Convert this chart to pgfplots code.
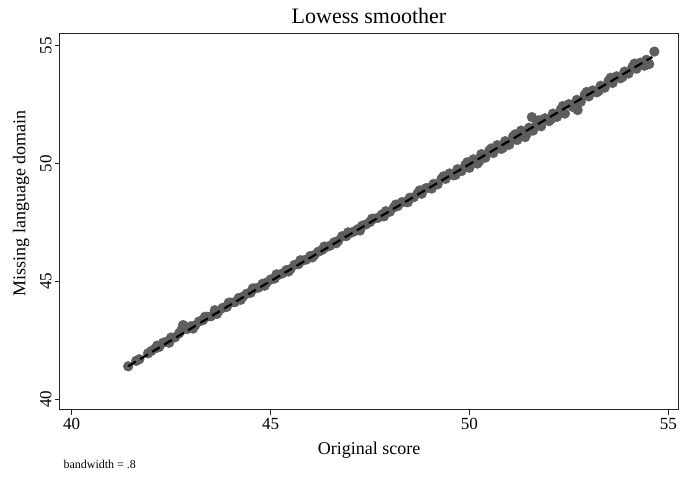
\documentclass[border=0pt]{standalone}
\usepackage{pgfplots}
\pgfplotsset{compat=1.18}
\usepackage{fontspec}
\setmainfont{Liberation Serif}

\definecolor{dotgray}{RGB}{94,94,94}

\begin{document}
\begin{tikzpicture}
\useasboundingbox (-60pt,-77pt) rectangle (620pt,410pt);
\begin{axis}[
  clip marker paths=true,
  scale only axis,
  width=618pt, height=376pt,
  xmin=39.706, xmax=55.244,
  ymin=39.546, ymax=55.496,
  xtick={40,45,50,55}, ytick={40,45,50,55},
  tick align=outside, major tick length=5pt,
  xtick pos=bottom, ytick pos=left,
  axis line style={black!85, line width=1pt},
  every tick/.style={black!85, line width=0.8pt},
  /pgf/number format/assume math mode=true,
  ticklabel style={font=\fontsize{17}{20}\selectfont},
  yticklabel style={rotate=90, anchor=south},
  title={Lowess smoother},
  title style={font=\fontsize{22}{26}\selectfont, at={(0.5,1)}, anchor=south, yshift=1pt},
  xlabel={Original score},
  ylabel={Missing language domain},
  label style={font=\fontsize{18}{21}\selectfont},
  xlabel style={at={(axis description cs:0.5,-0.106)}, anchor=center},
  ylabel style={at={(axis description cs:-0.063,0.55)}, anchor=center},
]
\addplot[only marks, mark=*, mark size=4.9pt, color=dotgray, mark options={fill=dotgray, draw=dotgray}]
table[row sep=crcr]{
41.42 41.40 \\
41.62 41.63 \\
41.70 41.70 \\
41.92 41.95 \\
42.00 42.05 \\
42.10 42.16 \\
42.20 42.22 \\
42.30 42.40 \\
42.40 42.45 \\
42.50 42.62 \\
42.60 42.63 \\
42.70 42.80 \\
42.80 43.15 \\
42.90 42.98 \\
43.00 43.10 \\
43.10 43.13 \\
43.20 43.30 \\
43.30 43.36 \\
43.40 43.50 \\
43.50 43.52 \\
43.60 43.78 \\
43.70 43.76 \\
43.80 43.88 \\
43.90 43.92 \\
44.00 44.10 \\
44.10 44.12 \\
44.20 44.30 \\
44.30 44.35 \\
44.40 44.48 \\
44.50 44.52 \\
44.60 44.70 \\
44.70 44.74 \\
44.80 44.90 \\
44.90 44.95 \\
45.00 45.08 \\
45.10 45.12 \\
45.20 45.28 \\
45.30 45.34 \\
45.40 45.48 \\
45.50 45.52 \\
45.60 45.70 \\
45.70 45.73 \\
45.80 45.88 \\
45.90 45.93 \\
46.00 46.08 \\
46.10 46.12 \\
46.20 46.26 \\
46.30 46.34 \\
46.40 46.46 \\
46.50 46.52 \\
46.60 46.66 \\
46.70 46.72 \\
46.80 46.92 \\
46.90 46.92 \\
47.00 47.05 \\
47.10 47.12 \\
47.20 47.22 \\
47.30 47.36 \\
47.40 47.42 \\
47.50 47.52 \\
47.60 47.66 \\
47.70 47.70 \\
47.80 47.84 \\
47.90 47.98 \\
48.00 47.96 \\
48.10 48.14 \\
48.20 48.20 \\
48.30 48.36 \\
48.40 48.38 \\
48.50 48.55 \\
48.60 48.57 \\
48.70 48.74 \\
48.80 48.72 \\
48.90 48.95 \\
49.00 48.98 \\
49.10 49.14 \\
49.20 49.12 \\
49.30 49.36 \\
49.40 49.35 \\
49.50 49.58 \\
49.60 49.50 \\
49.70 49.76 \\
49.80 49.68 \\
49.90 49.95 \\
50.00 49.82 \\
50.10 50.18 \\
50.20 50.00 \\
50.30 50.40 \\
50.40 50.25 \\
50.50 50.55 \\
50.60 50.45 \\
50.70 50.78 \\
50.80 50.62 \\
50.90 50.95 \\
51.00 50.80 \\
51.10 51.15 \\
51.20 51.00 \\
51.30 51.40 \\
51.40 51.12 \\
51.50 51.52 \\
51.57 51.97 \\
51.60 51.40 \\
51.70 51.72 \\
51.80 51.58 \\
51.90 51.92 \\
52.00 51.80 \\
52.10 52.12 \\
52.20 51.98 \\
52.30 52.30 \\
52.40 52.12 \\
52.50 52.52 \\
52.60 52.40 \\
52.72 52.27 \\
52.70 52.70 \\
52.80 52.62 \\
52.90 52.92 \\
53.00 52.85 \\
53.10 53.10 \\
53.20 53.02 \\
53.30 53.30 \\
53.40 53.22 \\
53.50 53.52 \\
53.60 53.42 \\
53.70 53.70 \\
53.80 53.62 \\
53.90 53.90 \\
54.00 53.82 \\
54.10 54.10 \\
54.20 54.02 \\
54.30 54.28 \\
54.40 54.15 \\
54.45 54.40 \\
54.52 54.22 \\
54.65 54.75 \\
42.15 42.28 \\
42.45 42.40 \\
42.75 42.92 \\
43.05 43.00 \\
43.35 43.50 \\
43.65 43.62 \\
43.95 44.10 \\
44.25 44.22 \\
44.55 44.70 \\
44.85 44.82 \\
45.15 45.30 \\
45.45 45.42 \\
45.75 45.90 \\
46.05 46.02 \\
46.35 46.48 \\
46.65 46.62 \\
46.95 47.08 \\
47.25 47.16 \\
47.55 47.66 \\
47.85 47.76 \\
48.15 48.26 \\
48.45 48.36 \\
48.75 48.86 \\
49.05 48.94 \\
49.35 49.46 \\
49.65 49.52 \\
49.95 50.06 \\
50.25 50.10 \\
50.55 50.64 \\
50.85 50.68 \\
51.15 51.24 \\
51.45 51.28 \\
51.75 51.84 \\
52.05 51.88 \\
52.35 52.44 \\
52.65 52.48 \\
52.95 53.04 \\
53.25 53.08 \\
53.55 53.64 \\
53.85 53.68 \\
54.15 54.24 \\
54.35 54.18 \\
};
\addplot[black, line width=2.2pt, dash pattern=on 9pt off 5pt, mark=none]
table[row sep=crcr]{
41.42 41.40 \\
44.00 44.02 \\
47.00 47.00 \\
50.00 49.97 \\
52.00 51.95 \\
54.60 54.52 \\
};
\end{axis}
\node[anchor=base west, font=\fontsize{12}{14}\selectfont] at (0pt,-59pt) {bandwidth = .8};
\end{tikzpicture}
\end{document}
